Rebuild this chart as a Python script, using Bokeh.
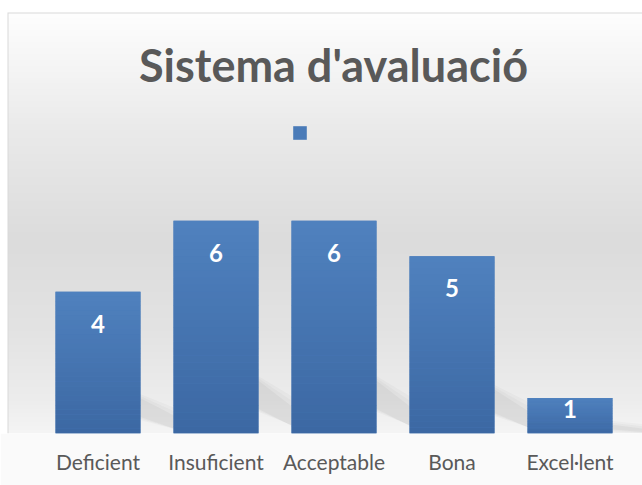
import numpy as np
from bokeh.plotting import figure
from bokeh.models import Range1d, FixedTicker, Legend, LegendItem, Label
from bokeh.embed import file_html
from bokeh.resources import INLINE
from bokeh.core.properties import value

# ---- data ----
title_text = "Sistema d'avaluació"
categories = ["Deficient", "Insuficient", "Acceptable", "Bona", "Excel·lent"]
counts = [4, 6, 6, 5, 1]

# ---- layout ----
W, H = 642, 485
FRAME_H = 433
BOTTOM = H - FRAME_H
PX_PER_UNIT = 35.45
CAT_PX = 118.0
CAT0_PX = 97.5
X0 = (0 - CAT0_PX) / CAT_PX
X1 = (W - CAT0_PX) / CAT_PX
Y1 = FRAME_H / PX_PER_UNIT
BAR_W = 0.72

x = np.arange(len(categories), dtype=float)
v = np.array(counts, dtype=float)

p = figure(width=W, height=H, x_range=Range1d(X0, X1), y_range=Range1d(0, Y1),
           output_backend="svg", toolbar_location=None, y_axis_location=None,
           min_border_left=0, min_border_right=0, min_border_top=0,
           min_border_bottom=BOTTOM, border_fill_color="#fafafa",
           outline_line_color=None, background_fill_color="#ffffff")
p.xgrid.visible = False
p.ygrid.visible = False

# ---- background gradient (Excel chart style) ----
ny, nx = FRAME_H, W
page_y = FRAME_H - (np.arange(ny) + 0.5)
page_x = np.arange(nx) + 0.5
stops_y = [0, 12, 60, 130, 240, 330, 400, 433]
stops_v = [255, 254, 246, 234, 220, 227, 237, 245]
g = np.interp(page_y, stops_y, stops_v)
img = np.empty((ny, nx), dtype=np.uint32)
view = img.view(dtype=np.uint8).reshape((ny, nx, 4))
for c in range(3):
    view[:, :, c] = g[:, None].astype(np.uint8)
view[:, :, 3] = 255
view[page_y < 12, :, :3] = 255
view[:, page_x < 7, :3] = 255
brow = (page_y >= 12) & (page_y < 13)
view[brow, 7:, :3] = 217
view[page_y >= 12, 7, :3] = 217
p.image_rgba(image=[img], x=X0, y=0, dw=X1 - X0, dh=Y1)

# ---- soft perspective shadows ----
xr_edge = x + BAR_W / 2
for k, a in enumerate([0.04, 0.05, 0.07]):
    e = (2 - k) * 0.05
    xs = [[r - 0.05, r - 0.05, r + 0.3 + e, r + 0.3 + e] for r in xr_edge]
    ys = [[max(0.13 * h - e, 0), 0.27 * h + e, 0.12 * h + e, max(0.03 * h - e, 0)] for h in v]
    p.patches(xs, ys, fill_color="#707070", fill_alpha=a, line_color=None)

# ---- bars ----
main = p.vbar(x=x, width=BAR_W, top=v, bottom=0, fill_color="#4a7bb8", line_color=None)
N = 30
c_bot = np.array([60, 104, 163])
c_top = np.array([80, 130, 191])
L, R, B, T, C = [], [], [], [], []
for xi, h in zip(x, v):
    for k in range(N):
        t = (k + 0.5) / N
        col = (c_bot + (c_top - c_bot) * t).astype(int)
        L.append(xi - BAR_W / 2); R.append(xi + BAR_W / 2)
        B.append(h * k / N); T.append(h * (k + 1) / N + 0.002)
        C.append("#%02x%02x%02x" % tuple(col))
p.quad(left=L, right=R, bottom=B, top=T, fill_color=C, line_color=None)

# ---- value labels ----
label_y = v - np.minimum(0.9, 0.3 * v)
p.text(x=x, y=label_y, text=[str(c) for c in counts], text_color="white",
       text_font=value("Lato"), text_font_style="bold", text_font_size="24px",
       text_align="center", text_baseline="middle")

# ---- title ----
p.add_layout(Label(x=(333 - CAT0_PX) / CAT_PX, y=(FRAME_H - 64) / PX_PER_UNIT, text=title_text,
                   text_font="Lato", text_font_style="bold", text_font_size="45px",
                   text_color="#595959", text_align="center", text_baseline="alphabetic"))

# ---- legend (marker only) ----
legend = Legend(items=[LegendItem(label="", renderers=[main])], location=(291, FRAME_H - 141),
                orientation="horizontal", glyph_width=17, glyph_height=17,
                label_width=0, label_height=17, label_standoff=0, padding=0, margin=0,
                spacing=0, border_line_color=None, background_fill_alpha=0,
                label_text_font_size="1px")
p.add_layout(legend)

# ---- x axis ----
p.xaxis.ticker = FixedTicker(ticks=list(x))
p.xaxis.major_label_overrides = {int(i): c for i, c in zip(x, categories)}
p.xaxis.axis_line_color = None
p.xaxis.major_tick_line_color = None
p.xaxis.minor_tick_line_color = None
p.xaxis.major_label_text_font = "Lato"
p.xaxis.major_label_text_font_size = "21px"
p.xaxis.major_label_text_color = "#595959"
p.xaxis.major_label_standoff = 9

open("out.html", "w").write(file_html(p, INLINE))
